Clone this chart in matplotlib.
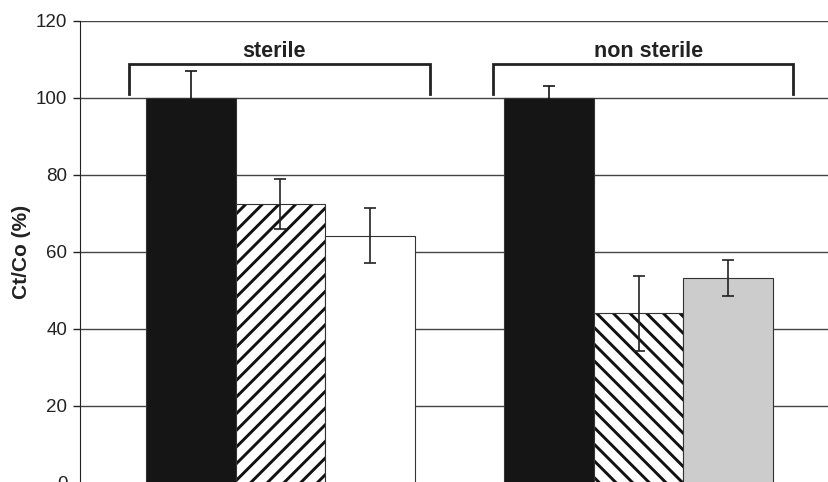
import matplotlib
matplotlib.use("Agg")
import matplotlib.pyplot as plt
import numpy as np

plt.rcParams['font.family'] = ['Liberation Sans', 'DejaVu Sans']
plt.rcParams['hatch.linewidth'] = 2.1

# ---- data ----
groups = ["sterile", "non sterile"]
series1 = [100.0, 100.0]        # black
series1_err = [7.0, 3.0]
series2 = [72.5, 44.0]          # hatched
series2_err = [6.5, 9.7]
series3 = [64.2, 53.1]          # white / gray
series3_err = [7.2, 4.7]
yticks = [0, 20, 40, 60, 80, 100, 120]
ylabel = "Ct/Co (%)"

fig = plt.figure(figsize=(8.29, 4.82), dpi=100)
ax = fig.add_axes([0.0965, -0.0015, 0.9035, 0.9585])

x = np.arange(len(groups))
w = 0.25
edge = '#333333'

ax.bar(x - w, series1, w, color='#151515', edgecolor=edge, linewidth=0.8, zorder=2)
ax.errorbar(x - w, series1, yerr=series1_err, fmt='none', ecolor='#151515',
            elinewidth=1.2, capsize=4.5, capthick=1.2, zorder=3)

hatches2 = ['//', '\\\\']
for i in range(len(groups)):
    ax.bar(x[i], series2[i], w, color='white', edgecolor='#111111', hatch=hatches2[i],
           linewidth=0, zorder=2)
    ax.bar(x[i], series2[i], w, color='none', edgecolor=edge, linewidth=0.8, zorder=2)
ax.errorbar(x, series2, yerr=series2_err, fmt='none', ecolor='#222222',
            elinewidth=1.2, capsize=4.5, capthick=1.2, zorder=3)

colors3 = ['white', '#cccccc']
ax.bar(x + w, series3, w, color=colors3, edgecolor=edge, linewidth=0.8, zorder=2)
ax.errorbar(x + w, series3, yerr=series3_err, fmt='none', ecolor='#222222',
            elinewidth=1.2, capsize=4.5, capthick=1.2, zorder=3)

# brackets with group labels
brackets = [(-0.423, 0.418), (-0.407, 0.432)]
label_dx = [-0.018, 0.029]
for i, (a, b) in enumerate(brackets):
    ax.plot([x[i] + a, x[i] + a, x[i] + b, x[i] + b], [101, 108.8, 108.8, 101],
            color='#222222', lw=2.0, solid_joinstyle='miter', zorder=3, clip_on=False)
    ax.text(x[i] + label_dx[i], 109.3, groups[i], ha='center', va='bottom',
            fontsize=15.5, fontweight='bold', color='#222222')

ax.set_ylim(0, 120)
ax.set_xlim(-0.56, 1.532)
ax.set_yticks(yticks)
ax.yaxis.grid(True, color='#444444', lw=1.0, zorder=0)
ax.set_axisbelow(True)
ax.set_xticks([])
ax.tick_params(axis='y', direction='out', length=5, width=1, labelsize=13.5, pad=4, colors='#222222')
ax.set_ylabel(ylabel, fontsize=15, fontweight='bold', labelpad=4, color='#222222')
for s in ['top', 'right']:
    ax.spines[s].set_visible(False)
ax.spines['left'].set_color('#222222')
ax.spines['bottom'].set_color('#222222')

fig.savefig("out.png", dpi=100)
